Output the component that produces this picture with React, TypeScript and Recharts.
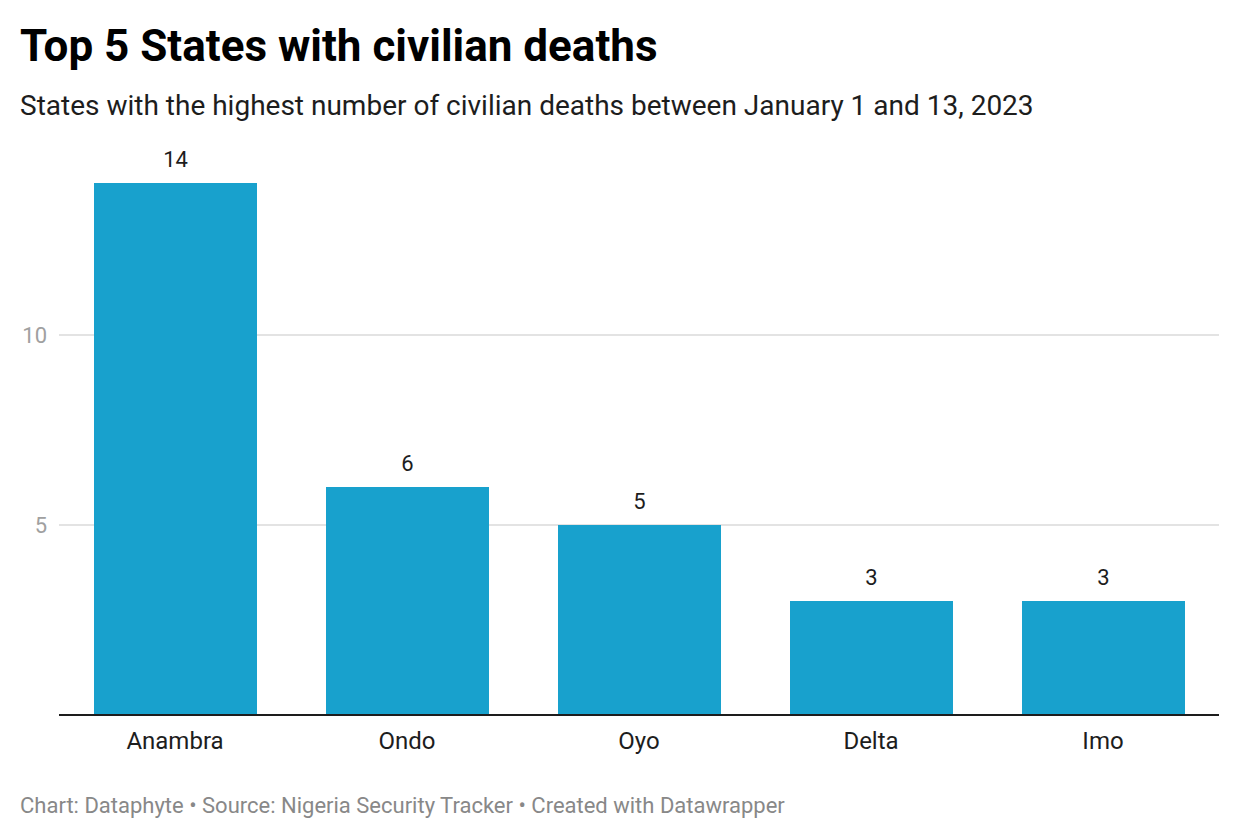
import { Bar, BarChart, CartesianGrid, LabelList, XAxis, YAxis } from "recharts";

const states = ["Anambra", "Ondo", "Oyo", "Delta", "Imo"];
const deaths = [14, 6, 5, 3, 3];
const yTicks = [5, 10];

const data = states.map((state, i) => ({ state, deaths: deaths[i] }));

const font = "Roboto, 'Noto Sans', sans-serif";

export default function App() {
  return (
    <div style={{ position: "absolute", left: 0, top: 0, width: 1240, height: 840, background: "#fff", fontFamily: font }}>
      <BarChart
        width={1240}
        height={840}
        data={data}
        margin={{ top: 183, right: 21, bottom: 85, left: 19 }}
        style={{ position: "absolute", left: 0, top: 0 }}
      >
        <CartesianGrid vertical={false} horizontalValues={yTicks} stroke="#e3e3e3" strokeWidth={2} />
        <XAxis
          dataKey="state"
          height={40}
          axisLine={{ stroke: "#1d1d1d", strokeWidth: 2 }}
          tickLine={false}
          tickMargin={11}
          tick={{ fontSize: 24, fill: "#1d1d1d", fontFamily: font }}
        />
        <YAxis
          width={40}
          domain={[0, 14]}
          ticks={yTicks}
          axisLine={false}
          tickLine={false}
          tickMargin={6}
          tick={{ fontSize: 22, fill: "#a0a0a0", fontFamily: font }}
        />
        <Bar dataKey="deaths" fill="#18a1cd" barSize={163} isAnimationActive={false}>
          <LabelList dataKey="deaths" position="top" offset={16} style={{ fontSize: 22, fill: "#1d1d1d", fontFamily: font }} />
        </Bar>
      </BarChart>
      <div style={{ position: "absolute", left: 20, top: 24, fontSize: 44, fontWeight: 700, lineHeight: 1, color: "#000", whiteSpace: "nowrap" }}>
        Top 5 States with civilian deaths
      </div>
      <div style={{ position: "absolute", left: 20, top: 92, fontSize: 28, lineHeight: 1, color: "#1d1d1d", whiteSpace: "nowrap" }}>
        States with the highest number of civilian deaths between January 1 and 13, 2023
      </div>
      <div style={{ position: "absolute", left: 20, top: 795, fontSize: 22, lineHeight: 1, color: "#888", whiteSpace: "nowrap" }}>
        Chart: Dataphyte • Source: Nigeria Security Tracker • Created with Datawrapper
      </div>
    </div>
  );
}
